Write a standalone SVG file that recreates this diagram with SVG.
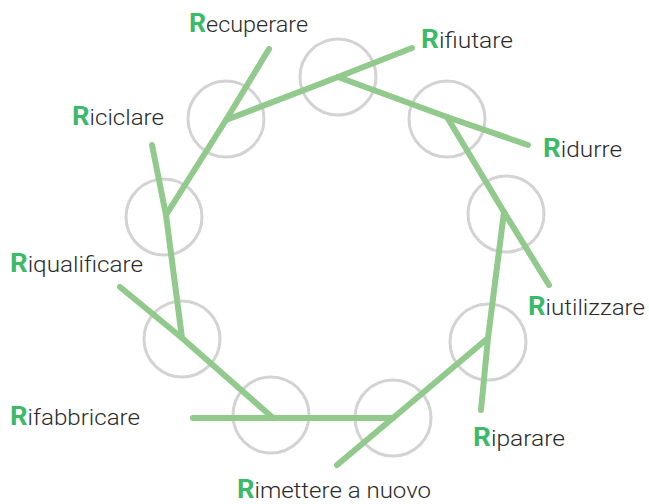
<svg xmlns="http://www.w3.org/2000/svg" width="649" height="504" viewBox="0 0 649 504">
<style>
.ring{fill:none;stroke:#d3d3d3;stroke-width:3}
.ln{fill:none;stroke:#92c98c;stroke-width:6;stroke-linecap:round;stroke-linejoin:round}
.lbl{font-family:Roboto,"Liberation Sans",sans-serif;font-size:22px;fill:#2b2b2b;font-weight:300}
.r{fill:#3dba69;font-weight:700;font-size:25px}
</style>
<rect width="649" height="504" fill="#ffffff"/>
<g id="circles">
<g id="n1"><circle class="ring" cx="338" cy="77" r="38"/></g>
<g id="n2"><circle class="ring" cx="226" cy="119" r="38"/></g>
<g id="n3"><circle class="ring" cx="447" cy="119" r="38"/></g>
<g id="n4"><circle class="ring" cx="506" cy="214" r="38"/></g>
<g id="n5"><circle class="ring" cx="488" cy="342" r="38"/></g>
<g id="n6"><circle class="ring" cx="393" cy="418" r="38"/></g>
<g id="n7"><circle class="ring" cx="271" cy="415" r="38"/></g>
<g id="n8"><circle class="ring" cx="182" cy="339" r="38"/></g>
<g id="n9"><circle class="ring" cx="164" cy="217" r="38"/></g>
</g>
<g id="connectors">
<polyline class="ln" points="226,120 338,77 412,48"/>
<polyline class="ln" points="338,77 447,117 528,145"/>
<polyline class="ln" points="447,117 504,212 549,285"/>
<polyline class="ln" points="504,212 488,338 481,410"/>
<polyline class="ln" points="488,338 393,418 337,465"/>
<polyline class="ln" points="393,418 273,418 193,418"/>
<polyline class="ln" points="273,418 182,338 120,287"/>
<polyline class="ln" points="182,338 166,215 152,145"/>
<polyline class="ln" points="166,215 226,120 269,49"/>
</g>
<g id="labels">
<text class="lbl" x="189" y="32" textLength="119" lengthAdjust="spacingAndGlyphs"><tspan class="r">R</tspan>ecuperare</text>
<text class="lbl" x="421" y="48" textLength="92" lengthAdjust="spacingAndGlyphs"><tspan class="r">R</tspan>ifiutare</text>
<text class="lbl" x="543" y="157" textLength="79" lengthAdjust="spacingAndGlyphs"><tspan class="r">R</tspan>idurre</text>
<text class="lbl" x="528" y="315" textLength="117" lengthAdjust="spacingAndGlyphs"><tspan class="r">R</tspan>iutilizzare</text>
<text class="lbl" x="473" y="446" textLength="92" lengthAdjust="spacingAndGlyphs"><tspan class="r">R</tspan>iparare</text>
<text class="lbl" x="237" y="498" textLength="194" lengthAdjust="spacingAndGlyphs"><tspan class="r">R</tspan>imettere a nuovo</text>
<text class="lbl" x="10" y="425" textLength="130" lengthAdjust="spacingAndGlyphs"><tspan class="r">R</tspan>ifabbricare</text>
<text class="lbl" x="10" y="272" textLength="133" lengthAdjust="spacingAndGlyphs"><tspan class="r">R</tspan>iqualificare</text>
<text class="lbl" x="72" y="125" textLength="92" lengthAdjust="spacingAndGlyphs"><tspan class="r">R</tspan>iciclare</text>
</g>
</svg>
